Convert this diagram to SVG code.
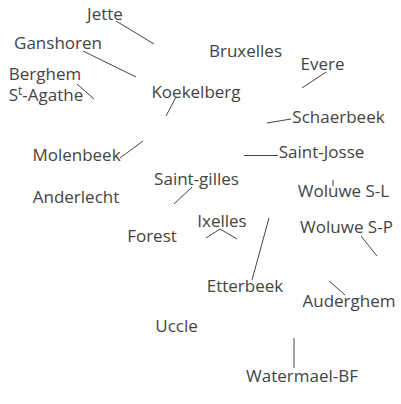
<svg xmlns="http://www.w3.org/2000/svg" width="401" height="404" viewBox="0 0 401 404">
<style>
text{font-family:"Open Sans","Liberation Sans",sans-serif;font-size:17px;fill:#444;text-anchor:middle}
.c line{stroke:#444;stroke-width:1}
</style>
<rect width="401" height="404" fill="#fff"/>
<g class="c" id="connectors">
<line x1="116" y1="21" x2="154" y2="44"/>
<line x1="83" y1="51" x2="136" y2="77"/>
<line x1="77" y1="84" x2="94" y2="99"/>
<line x1="176" y1="97" x2="166" y2="116"/>
<line x1="326" y1="72" x2="302" y2="88"/>
<line x1="267" y1="123" x2="291" y2="119"/>
<line x1="244" y1="155.5" x2="278" y2="155.5"/>
<line x1="120" y1="158" x2="143" y2="141"/>
<line x1="192" y1="187" x2="174" y2="204"/>
<line x1="333" y1="180" x2="333" y2="186"/>
<line x1="220" y1="229" x2="206" y2="238"/>
<line x1="220" y1="229" x2="237" y2="239"/>
<line x1="269" y1="218" x2="252" y2="280"/>
<line x1="361" y1="236" x2="377" y2="256"/>
<line x1="329" y1="281" x2="345" y2="295"/>
<line x1="294" y1="338" x2="294" y2="368"/>
</g>
<g id="jette"><text x="105" y="20">Jette</text></g>
<g id="ganshoren"><text x="58" y="49">Ganshoren</text></g>
<g id="berghem"><text x="45" y="80">Berghem</text><text x="46" y="101">S<tspan dy="-6" font-size="12">t</tspan><tspan dy="6">-Agathe</tspan></text></g>
<g id="bruxelles"><text x="245.5" y="57">Bruxelles</text></g>
<g id="evere"><text x="322.5" y="70">Evere</text></g>
<g id="koekelberg"><text x="196" y="98">Koekelberg</text></g>
<g id="schaerbeek"><text x="338.5" y="123">Schaerbeek</text></g>
<g id="saint-josse"><text x="321.5" y="158">Saint-Josse</text></g>
<g id="molenbeek"><text x="76.5" y="161">Molenbeek</text></g>
<g id="saint-gilles"><text x="196.5" y="185">Saint-gilles</text></g>
<g id="anderlecht"><text x="76" y="203">Anderlecht</text></g>
<g id="woluwe-sl"><text x="343.5" y="197">Woluwe S-L</text></g>
<g id="ixelles"><text x="222" y="227">Ixelles</text></g>
<g id="woluwe-sp"><text x="346.5" y="233">Woluwe S-P</text></g>
<g id="forest"><text x="152" y="242">Forest</text></g>
<g id="etterbeek"><text x="245" y="292">Etterbeek</text></g>
<g id="auderghem"><text x="349" y="307">Auderghem</text></g>
<g id="uccle"><text x="176.5" y="332">Uccle</text></g>
<g id="watermael"><text x="302" y="382">Watermael-BF</text></g>
</svg>
